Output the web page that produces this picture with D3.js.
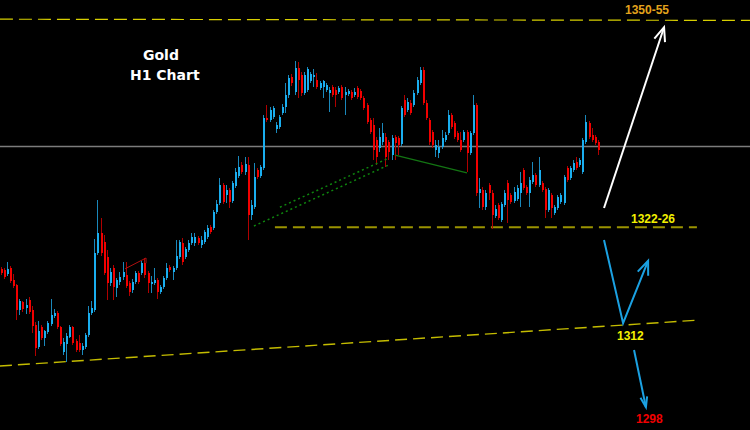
<!DOCTYPE html>
<html><head><meta charset="utf-8">
<script src="https://cdn.jsdelivr.net/npm/d3@7"></script>
<style>html,body{margin:0;padding:0;background:#000;overflow:hidden}</style>
</head><body>
<svg id="chart" width="750" height="430"></svg>
<script>
// Gold H1 candles (price, USD/oz)
const opens = [
1321.4,1321.25,1320.75,1321.5,1320,1319.4,1316.25,1317.25,1316.5,1317.5,
1316.25,1314.4,1311.6,1314.1,1312.75,1313.5,1314.5,1315.5,1315.9,1314.1,
1311,1312,1312.9,1314.1,1312.4,1312.1,1311.25,1311.6,1313.1,1315.9,
1316.25,1323.4,1325.9,1324.75,1322.9,1319.6,1321.5,1319,1319.75,1320.4,
1320.6,1319.6,1318.75,1319.75,1320.9,1320.9,1322.1,1320.9,1319.5,1319.6,
1320,1318.5,1319.1,1320.25,1321.6,1321,1321.5,1322.9,1324.6,1322.9,
1323.75,1324.6,1324.6,1325.25,1324.4,1324.75,1325.4,1326.6,1326.5,1328.5,
1329.6,1331.9,1330.6,1331.25,1329.9,1331.75,1333,1334.4,1333.5,1334.4,
1328.1,1329.1,1333.75,1333,1334,1340.25,1340,1340.4,1338.9,1339.1,
1340.9,1341.6,1343.1,1345.4,1343.5,1346.5,1345.6,1343.4,1343.75,1344.9,
1345.4,1345,1344,1344.1,1343.75,1343.4,1344.1,1343.75,1343.5,1344.1,
1343.1,1343.25,1343.5,1343.1,1344,1343.6,1342.75,1341.9,1340,1339.4,
1337.5,1336.5,1337.25,1337.9,1337.25,1335.6,1337.9,1337.75,1337,1342.5,
1341.25,1342.1,1341.9,1343.4,1344.6,1346.25,1342.1,1340,1338.5,1336.25,
1335.9,1336.6,1337.5,1338.4,1340.6,1339.6,1338.4,1337.5,1337.5,1338.5,
1335.9,1338.4,1341.9,1330.9,1331.25,1329.1,1331.9,1330.9,1328,1329.4,
1327.5,1329.4,1332.1,1330.6,1329.9,1330.1,1330.9,1333.75,1331.6,1330.9,
1332.25,1333.1,1331.9,1332.1,1331.4,1328.75,1330.6,1328.4,1329,1329.75,
1329.6,1334,1332.75,1333.75,1334.75,1334.4,1333.5,1337.25,1339.6,1338.1,
1337.9,1337.25];
const highs = [
1321.6,1321.5,1322.25,1321.75,1320.75,1319.5,1317.6,1317.4,1317.6,1317.9,
1316.75,1314.75,1314.9,1314.4,1313.75,1314.9,1317.6,1316.4,1316.1,1314.25,
1312.75,1313.4,1314.4,1314.25,1312.6,1313.1,1312.1,1313.4,1316.75,1317.4,
1325.1,1330,1327.75,1325.6,1323.75,1321.5,1321.9,1320.25,1321,1322.25,
1322.25,1319.9,1320.1,1321.1,1321.1,1322.4,1322.75,1321.1,1320.5,1321.5,
1320.25,1319.4,1320.5,1322.1,1321.9,1321.75,1325,1325,1325.25,1324.1,
1325,1325.9,1325.9,1325.5,1325.5,1326.25,1326.9,1326.9,1328.75,1330,
1332.75,1332.1,1331.9,1331.5,1332.4,1334,1335.5,1334.75,1335.4,1335.4,
1330,1334.6,1334,1334.4,1340.6,1341.9,1341.6,1341.75,1339.75,1340.6,
1342,1344.6,1345.6,1345.75,1347.4,1347.25,1346,1346,1346.6,1346,
1346.4,1345.9,1344.9,1345,1344.6,1344.1,1344.4,1344.1,1344.25,1344.4,
1344.1,1343.9,1343.75,1344,1344.25,1343.9,1343,1342.1,1340.25,1340.25,
1337.9,1339,1339.6,1338.4,1337.5,1338.1,1338.1,1338,1341.75,1343.1,
1342.75,1342.5,1343.75,1345.4,1346.6,1346.6,1342.5,1340.25,1338.75,1337.5,
1337.5,1338.75,1338.5,1341.25,1340.9,1339.9,1338.6,1338.5,1338.75,1338.75,
1338.6,1343.1,1342.1,1332.75,1331.6,1331.25,1332.1,1331.25,1329.4,1329.6,
1329.75,1331.25,1332.5,1330.9,1331.6,1331.9,1333.5,1334,1331.9,1332.9,
1334.75,1333.4,1335.4,1332.4,1331.6,1331.5,1330.9,1329.4,1330.6,1330.9,
1333.1,1334.25,1334.25,1335,1335.4,1335.25,1337.75,1340.6,1339.9,1339,
1338.1,1337.5];
const lows = [
1320.6,1320.1,1320.5,1319.6,1319,1315,1315.6,1316,1315.75,1315.75,
1313.4,1310.5,1311.4,1312.5,1311.75,1313.25,1314.25,1315.25,1313.9,1311.75,
1310.6,1309.75,1312.75,1311.9,1311,1311,1310.6,1311.4,1312.9,1315.6,
1316,1323.1,1323,1320.6,1317.5,1319.25,1317.5,1317.9,1319.4,1320,
1319,1318,1318.4,1319.5,1319.5,1320.6,1320.25,1318.4,1318.4,1319.4,
1317.6,1318.25,1318.9,1320,1321,1320,1321.25,1322.6,1321.9,1322.6,
1323.5,1324.4,1324.25,1324.4,1324,1324.5,1325.1,1325.75,1326.25,1328.25,
1329.4,1329.5,1329.6,1329,1329.6,1331.5,1332.75,1333.25,1333.1,1325,
1327.5,1328.9,1332.6,1332.75,1333.75,1339.75,1339.75,1340.1,1338.4,1338.9,
1340.6,1340.9,1342.75,1344.25,1343.1,1342.75,1343,1343.1,1343.5,1344.6,
1344.1,1343.9,1343.75,1342.75,1343.5,1341,1342.9,1341.6,1343.25,1342.5,
1340.6,1343,1342.5,1342.9,1342.6,1342.5,1341.25,1339.5,1338.25,1335,
1334.4,1336,1336.9,1334.1,1335,1335,1335,1335.6,1336.75,1340.4,
1341,1340.6,1341.6,1343.1,1344.4,1341.9,1340,1336.9,1336.5,1335.4,
1335.25,1336.4,1337.25,1338.1,1338.9,1337.6,1337.25,1336,1337.25,1333.5,
1335.6,1338.1,1330.5,1329,1328.75,1328.75,1330,1326.4,1327.75,1327.5,
1327.25,1329.1,1327.1,1329.5,1329.6,1329.9,1329.1,1331.25,1330.6,1329.1,
1332,1331.6,1331.6,1331,1327.75,1328.5,1327.75,1328.1,1328.75,1329.5,
1329.4,1332.25,1332.5,1333.5,1333.75,1334.1,1333.25,1337,1337.6,1337.25,
1336.9,1335.6];
const closes = [
1320.9,1320.4,1321.4,1319.9,1319.25,1316.25,1317.4,1316.4,1316.9,1316,
1314.25,1311.5,1313.6,1312.75,1313.6,1314.6,1315.6,1315.9,1314.1,1312,
1312.25,1313,1314.1,1312.1,1311.25,1311.25,1311.75,1313.1,1315.9,1316.5,
1323.4,1325.9,1323.4,1320.9,1319.6,1321,1319.1,1320,1320.4,1321,
1319.25,1318.5,1319.75,1320.9,1319.75,1322.1,1320.6,1319.6,1319.75,1320,
1318.5,1319.1,1320.25,1321.5,1321.25,1321.5,1323,1324.75,1322.25,1323.9,
1324.6,1325.4,1325.4,1324.6,1325,1326,1326.5,1326,1328.5,1329.5,
1331.9,1329.75,1331.25,1329.75,1332.1,1333.5,1334.1,1333.5,1334.5,1328.1,
1329.4,1332.9,1332.9,1334.1,1340.25,1340,1341.25,1341.5,1339.4,1340.4,
1341.6,1343.1,1345.25,1344.6,1346.5,1345,1343.4,1345.6,1346.4,1345.75,
1345.6,1344.1,1344.6,1344.9,1344.4,1343.75,1343.1,1343.1,1344,1342.75,
1343.5,1343.6,1342.75,1343.5,1342.9,1342.75,1341.5,1339.75,1338.5,1336.25,
1335.4,1337.9,1338.4,1335.4,1336,1337.75,1337.1,1336.9,1341.5,1340.6,
1342.25,1340.9,1343.4,1345,1346.25,1342.1,1340.25,1337.25,1336.9,1336.9,
1336.6,1337.75,1338.1,1340.6,1339.1,1337.9,1337.5,1336.25,1338.5,1335.9,
1338.4,1341.9,1330.9,1331.4,1329.1,1330.9,1330.9,1328.1,1328.9,1327.75,
1329.5,1330.9,1330,1329.75,1331,1331.5,1332.1,1331.5,1330.9,1332.5,
1333.1,1331.9,1333.75,1331.25,1328.75,1331.25,1329,1329.1,1330.4,1330.6,
1332.9,1332.5,1334,1334.6,1334,1335,1337.5,1339.75,1337.9,1337.5,
1337.1,1336.25];

// annotation levels: [bar index, price]
const currentPrice = 1336.75;
const targetLine  = [[-0.5,1352.6],[239.5,1352.45]];   // 1350-55
const pivotLine   = [[87.4,1326.6],[222.3,1326.6]];    // 1322-26
const channelLine = [[-0.5,1309.25],[223.3,1315.0]];   // 1312
const redTrend    = [[39.5,1321.4],[46.2,1322.75],[46.2,1322.1]];
const greenDotA   = [[89.0,1329.1],[123.9,1335.25]];
const greenDotB   = [[80.7,1326.75],[123.9,1334.4]];
const greenLine   = [[125.8,1335.6],[148.8,1333.4]];
const whiteArrow  = [[192.6,1329.0],[211.8,1351.6]];
const blueArrowV  = [[192.6,1325.0],[198.7,1314.6],[206.7,1322.4]];
const blueArrowDn = [[202.2,1311.25],[206.0,1304.1]];
const labels = [
  {text:"1350-55", x:625, y:14,  color:"#e2a21c"},
  {text:"1322-26", x:631, y:222.5, color:"#f2f000"},
  {text:"1312",    x:617, y:340, color:"#f2f000"},
  {text:"1298",    x:636, y:423, color:"#f00000"}
];
const titleLines = ["Gold","H1 Chart"];

const W=750,H=430;
const svg=d3.select('#chart');
svg.append('rect').attr('width',W).attr('height',H).attr('fill','#000');
const n=opens.length;
const x=d3.scaleLinear().domain([0,n-1]).range([1.5,599]);
const y=d3.scaleLinear().domain([1301.25,1355]).range([H,0]);
const line=d3.line().x(d=>x(d[0])).y(d=>y(d[1]));

// current price line
svg.append('line').attr('x1',0).attr('x2',W)
  .attr('y1',Math.round(y(currentPrice))+0.5).attr('y2',Math.round(y(currentPrice))+0.5)
  .attr('stroke','#7c7c7c').attr('stroke-width',1.3);

// level lines
svg.append('path').attr('d',line(targetLine)).attr('fill','none')
  .attr('stroke','#d8cf00').attr('stroke-width',1.2).attr('stroke-dasharray','13,6');
svg.append('path').attr('d',line(pivotLine)).attr('fill','none')
  .attr('stroke','#9a9300').attr('stroke-width',2).attr('stroke-dasharray','12,6');
svg.append('path').attr('d',line(channelLine)).attr('fill','none')
  .attr('stroke','#c4bc00').attr('stroke-width',1.4).attr('stroke-dasharray','12,6');

// candles
const data=d3.range(n).map(i=>({i,o:opens[i],h:highs[i],l:lows[i],c:closes[i]}));
const g=svg.append('g').attr('shape-rendering','crispEdges');
const bx=d=>Math.round(x(d.i)-1);
g.selectAll('rect.wick').data(data).join('rect').attr('class','wick')
  .attr('x',d=>bx(d)).attr('width',1)
  .attr('y',d=>Math.round(y(d.h))).attr('height',d=>Math.max(1,Math.round(y(d.l))-Math.round(y(d.h))))
  .attr('fill',d=>d.c>=d.o?'#1a88bb':'#b00000');
g.selectAll('rect.body').data(data).join('rect').attr('class','body')
  .attr('x',d=>bx(d)).attr('width',2)
  .attr('y',d=>Math.round(y(Math.max(d.o,d.c))))
  .attr('height',d=>Math.max(1,Math.round(y(Math.min(d.o,d.c)))-Math.round(y(Math.max(d.o,d.c)))))
  .attr('fill',d=>d.c>=d.o?'#1aaeef':'#f20000');

// trend annotations
svg.append('path').attr('d',line(redTrend)).attr('fill','none').attr('stroke','#b01010').attr('stroke-width',1);
[greenDotA,greenDotB].forEach(l=>svg.append('path').attr('d',line(l)).attr('fill','none')
  .attr('stroke','#0e850e').attr('stroke-width',1.5).attr('stroke-dasharray','2,3'));
svg.append('path').attr('d',line(greenLine)).attr('fill','none').attr('stroke','#137513').attr('stroke-width',1.2);

function arrow(pts,color,len,spread){
  const p=pts.map(d=>[x(d[0]),y(d[1])]);
  svg.append('path').attr('d',d3.line()(p)).attr('fill','none').attr('stroke',color)
    .attr('stroke-width',2).attr('stroke-linejoin','miter');
  const a=p[p.length-2], b=p[p.length-1];
  const ang=Math.atan2(a[1]-b[1],a[0]-b[0]);
  const s=spread*Math.PI/180;
  const b1=[b[0]+len*Math.cos(ang+s),b[1]+len*Math.sin(ang+s)];
  const b2=[b[0]+len*Math.cos(ang-s),b[1]+len*Math.sin(ang-s)];
  svg.append('path').attr('d',d3.line()([b1,b,b2])).attr('fill','none').attr('stroke',color)
    .attr('stroke-width',2);
}
arrow(whiteArrow,'#ffffff',15,22);
arrow(blueArrowV,'#1ba1e2',15,22);
arrow(blueArrowDn,'#1ba1e2',11,18);

// labels
svg.selectAll('text.lbl').data(labels).join('text').attr('class','lbl')
  .attr('x',d=>d.x).attr('y',d=>d.y).text(d=>d.text).attr('fill',d=>d.color)
  .attr('font-family','"Liberation Sans",Arial,sans-serif').attr('font-weight','bold').attr('font-size',12);

svg.append('text').attr('x',143).attr('y',59.5).text(titleLines[0])
  .attr('fill','#fff').attr('font-family','"DejaVu Sans",sans-serif').attr('font-weight','bold').attr('font-size',14);
svg.append('text').attr('x',130).attr('y',80).text(titleLines[1])
  .attr('fill','#fff').attr('font-family','"DejaVu Sans",sans-serif').attr('font-weight','bold').attr('font-size',14);
</script>
</body></html>
